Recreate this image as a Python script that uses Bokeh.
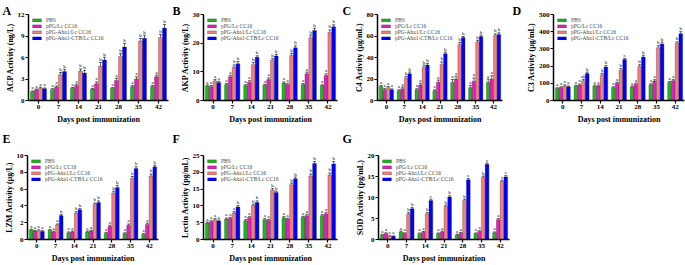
from bokeh.plotting import figure
from bokeh.models import (ColumnDataSource, FactorRange, Whisker, TeeHead, Label,
                          Legend, LegendItem, FixedTicker, Range1d)
from bokeh.layouts import column, row
from bokeh.transform import dodge
from bokeh.core.properties import value
from bokeh.embed import file_html
from bokeh.resources import INLINE

days = ["0", "7", "14", "21", "28", "35", "42"]
groups = ["PBS", "pPG/Lc CC16", "pPG-Aha1/Lc CC16", "pPG-Aha1-CTB/Lc CC16"]
colors = ["#1FB51F", "#E020C0", "#F08078", "#0000FF"]

# ---- A: ACP ----
acp_pbs = [1.25, 1.55, 1.7, 1.6, 1.7, 1.95, 1.95]
acp_ppg = [1.5, 1.9, 2.1, 2.35, 2.8, 3.0, 3.3]
acp_aha = [1.7, 3.6, 4.1, 4.8, 6.15, 8.3, 8.8]
acp_ctb = [1.65, 4.05, 3.85, 5.65, 7.45, 8.7, 10.1]
acp_err_pbs = [0.08, 0.1, 0.12, 0.1, 0.1, 0.12, 0.15]
acp_err_ppg = [0.1, 0.15, 0.2, 0.25, 0.3, 0.3, 0.25]
acp_err_aha = [0.15, 0.3, 0.3, 0.5, 0.4, 0.35, 0.4]
acp_err_ctb = [0.1, 0.3, 0.35, 0.4, 0.5, 0.4, 0.5]
acp_let = [["a"] * 7, ["a"] * 7, ["a", "b", "b", "b", "b", "b", "b"], ["a", "b", "b", "b", "b", "b", "b"]]

# ---- B: AKP ----
akp_pbs = [5.1, 5.6, 5.2, 5.3, 6.1, 5.6, 5.2]
akp_ppg = [4.9, 8.3, 6.4, 7.3, 5.6, 9.3, 8.7]
akp_aha = [6.8, 11.7, 12.5, 14.0, 15.7, 21.9, 23.7]
akp_ctb = [6.3, 12.8, 15.1, 15.5, 18.4, 24.4, 25.7]
akp_err_pbs = [0.3, 0.3, 0.3, 0.3, 0.4, 0.3, 0.3]
akp_err_ppg = [0.3, 0.5, 0.5, 0.6, 0.4, 0.6, 0.6]
akp_err_aha = [0.5, 0.7, 0.8, 0.6, 0.8, 0.9, 0.9]
akp_err_ctb = [0.4, 0.8, 0.5, 0.6, 0.7, 0.8, 0.7]
akp_let = [["a"] * 7, ["a"] * 7, ["a", "b", "b", "b", "b", "b", "b"], ["a", "b", "b", "b", "b", "b", "b"]]

# ---- C: C4 ----
c4_pbs = [13, 9, 10, 9, 17, 12, 17]
c4_ppg = [10, 11, 14.5, 17, 20, 18, 20]
c4_aha = [12, 21, 31, 33.5, 52, 54.5, 60.5]
c4_ctb = [10, 25, 33, 43.5, 58.5, 59.5, 61.5]
c4_err_pbs = [1.0, 1.0, 1.0, 1.0, 2.5, 2.0, 3.0]
c4_err_ppg = [1.0, 1.5, 1.5, 2.0, 2.5, 3.0, 3.0]
c4_err_aha = [1.0, 1.5, 2.0, 2.5, 2.0, 1.5, 1.5]
c4_err_ctb = [0.8, 1.5, 1.5, 1.5, 1.0, 1.2, 1.5]
c4_let = [["a"] * 7, ["a"] * 7, ["a", "b", "b", "b", "b", "b", "b"], ["a", "b", "b", "b", "b", "b", "b"]]

# ---- D: C3 ----
c3_pbs = [70, 85, 85, 75, 80, 92, 105]
c3_ppg = [75, 90, 85, 100, 95, 113, 115]
c3_aha = [85, 115, 150, 175, 198, 307, 333]
c3_ctb = [80, 157, 195, 238, 253, 328, 388]
c3_err_pbs = [4, 4, 5, 5, 4, 5, 5]
c3_err_ppg = [5, 6, 5, 6, 6, 8, 6]
c3_err_aha = [6, 8, 8, 10, 10, 12, 8]
c3_err_ctb = [5, 8, 8, 6, 10, 12, 12]
c3_let = [["a"] * 7, ["a"] * 7, ["a", "ab", "b", "b", "b", "b", "b"], ["a", "b", "b", "c", "b", "b", "b"]]

# ---- E: LZM ----
lzm_pbs = [1.15, 1.1, 0.8, 0.9, 0.75, 0.7, 0.6]
lzm_ppg = [1.0, 0.9, 0.9, 1.0, 1.55, 1.7, 1.8]
lzm_aha = [1.05, 1.75, 3.15, 4.2, 5.55, 7.3, 7.55]
lzm_ctb = [0.95, 2.85, 3.55, 4.4, 6.2, 8.45, 8.65]
lzm_err_pbs = [0.08, 0.1, 0.1, 0.1, 0.1, 0.1, 0.1]
lzm_err_ppg = [0.1, 0.1, 0.1, 0.1, 0.15, 0.15, 0.15]
lzm_err_aha = [0.1, 0.1, 0.15, 0.15, 0.2, 0.2, 0.25]
lzm_err_ctb = [0.1, 0.15, 0.15, 0.2, 0.25, 0.2, 0.2]
lzm_let = [["a"] * 7, ["a"] * 7, ["a", "a", "b", "b", "b", "b", "b"], ["a", "b", "b", "b", "b", "b", "b"]]

# ---- F: Lectin ----
lec_pbs = [4.9, 6.1, 5.6, 5.9, 6.5, 6.6, 7.1]
lec_ppg = [5.3, 6.3, 6.5, 5.7, 6.0, 7.1, 7.6]
lec_aha = [5.9, 7.9, 10.1, 14.7, 16.3, 18.9, 19.2]
lec_ctb = [5.5, 9.7, 11.0, 14.0, 18.1, 22.6, 22.5]
lec_err_pbs = [0.3, 0.3, 0.3, 0.3, 0.3, 0.3, 0.3]
lec_err_ppg = [0.3, 0.3, 0.3, 0.3, 0.3, 0.4, 0.4]
lec_err_aha = [0.3, 0.4, 0.4, 0.5, 0.5, 0.6, 0.6]
lec_err_ctb = [0.3, 0.4, 0.5, 0.4, 0.5, 0.6, 0.7]
lec_let = [["a"] * 7, ["a"] * 7, ["a", "a", "b", "b", "b", "b", "b"], ["a", "b", "b", "b", "b", "b", "b"]]

# ---- G: SOD ----
sod_pbs = [1.1, 1.8, 1.4, 1.4, 1.1, 1.4, 1.6]
sod_ppg = [1.4, 1.4, 1.7, 1.8, 1.5, 1.9, 4.7]
sod_aha = [0.8, 6.1, 6.1, 7.9, 9.3, 14.8, 13.8]
sod_ctb = [0.75, 7.3, 9.3, 10.1, 14.2, 17.9, 14.9]
sod_err_pbs = [0.15, 0.2, 0.15, 0.15, 0.15, 0.15, 0.2]
sod_err_ppg = [0.2, 0.2, 0.2, 0.2, 0.2, 0.2, 0.3]
sod_err_aha = [0.1, 0.3, 0.3, 0.3, 0.3, 0.3, 0.3]
sod_err_ctb = [0.1, 0.3, 0.3, 0.3, 0.3, 0.3, 0.3]
sod_let = [["a"] * 7, ["a"] * 7, ["a", "b", "b", "b", "b", "b", "c"],
           ["a", "b", "c", "b", "c", "c", "c"]]

FONT = "Liberation Serif"
offsets = [-0.3, -0.1, 0.1, 0.3]


def panel(letter, ylabel, series, errs, letters, y_end, y_ticks,
          width, height, left, right, top, bottom):
    p = figure(x_range=FactorRange(*days, range_padding=0.0),
               y_range=Range1d(0, y_end),
               width=width, height=height, output_backend="svg",
               toolbar_location=None, min_border_left=left,
               min_border_right=right, min_border_top=top,
               min_border_bottom=bottom)
    p.outline_line_color = None
    p.xgrid.grid_line_color = None
    p.ygrid.grid_line_color = None
    p.background_fill_color = None
    p.border_fill_color = None
    items = []
    for i, (vals, err, lets) in enumerate(zip(series, errs, letters)):
        top_vals = [v + e for v, e in zip(vals, err)]
        src = ColumnDataSource(dict(day=days, v=vals, up=top_vals,
                                    lo=vals, lab=lets))
        r = p.vbar(x=dodge("day", offsets[i], range=p.x_range), top="v",
                   width=0.2, source=src, fill_color=colors[i],
                   line_color="#222222", line_width=0.3)
        w = Whisker(base=dodge("day", offsets[i], range=p.x_range),
                    upper="up", lower="lo", source=src,
                    line_color="black", line_width=0.6,
                    upper_head=TeeHead(size=3, line_width=0.6, line_color="black"),
                    lower_head=None)
        p.add_layout(w)
        p.text(x=dodge("day", offsets[i], range=p.x_range), y="up", text="lab",
               source=src, text_font=value(FONT), text_font_size="5px",
               text_align="center", text_baseline="bottom", y_offset=-0.5,
               text_color="black")
        items.append(LegendItem(label=groups[i], renderers=[r]))
    leg = Legend(items=items, location="top_left", background_fill_alpha=0,
                 border_line_color=None, label_text_font=FONT,
                 label_text_font_size="5.5px", glyph_width=11, glyph_height=4,
                 label_height=5, spacing=0, padding=0, margin=3,
                 label_standoff=4, label_text_line_height=0.9)
    p.add_layout(leg)

    for ax in (p.xaxis[0], p.yaxis[0]):
        ax.axis_line_width = 1.5
        ax.axis_line_color = "black"
        ax.major_tick_line_width = 1.2
        ax.major_tick_in = 0
        ax.major_tick_out = 3
        ax.minor_tick_line_color = None
        ax.major_label_text_font = FONT
        ax.major_label_text_font_style = "bold"
        ax.major_label_text_font_size = "7px"
        ax.major_label_text_color = "black"
        ax.axis_label_text_font = FONT
        ax.axis_label_text_font_style = "bold"
        ax.axis_label_text_font_size = "8px"
        ax.axis_label_text_color = "black"
        ax.major_label_standoff = 1
    p.xaxis.axis_label = "Days post immunization"
    p.xaxis.axis_label_standoff = 3
    p.yaxis.axis_label = ylabel
    p.yaxis.axis_label_standoff = 0
    p.yaxis.ticker = FixedTicker(ticks=y_ticks)
    p.add_layout(Label(x=-(left - 2), y=top - 1, x_units="screen",
                       y_units="screen", text=letter, text_font=FONT,
                       text_font_style="bold", text_font_size="12px",
                       text_line_height=0.6,
                       text_color="black", text_baseline="top"), "above")
    return p


pA = panel("A", "ACP Activity (ng/L)", [acp_pbs, acp_ppg, acp_aha, acp_ctb],
           [acp_err_pbs, acp_err_ppg, acp_err_aha, acp_err_ctb], acp_let,
           12, [0, 3, 6, 9, 12], 170, 130, 28, 2, 12, 30)
pB = panel("B", "AKP Activity (ng/L)", [akp_pbs, akp_ppg, akp_aha, akp_ctb],
           [akp_err_pbs, akp_err_ppg, akp_err_aha, akp_err_ctb], akp_let,
           30, [0, 10, 20, 30], 170, 130, 33, 3, 12, 30)
pC = panel("C", "C4 Activity (μg/mL)", [c4_pbs, c4_ppg, c4_aha, c4_ctb],
           [c4_err_pbs, c4_err_ppg, c4_err_aha, c4_err_ctb], c4_let,
           80, [0, 20, 40, 60, 80], 170, 130, 37, 8, 12, 30)
pD = panel("D", "C3 Activity (μg/mL)", [c3_pbs, c3_ppg, c3_aha, c3_ctb],
           [c3_err_pbs, c3_err_ppg, c3_err_aha, c3_err_ctb], c3_let,
           500, [0, 100, 200, 300, 400, 500], 175, 130, 43, 1, 12, 30)
pE = panel("E", "LZM Activity (μg/L)", [lzm_pbs, lzm_ppg, lzm_aha, lzm_ctb],
           [lzm_err_pbs, lzm_err_ppg, lzm_err_aha, lzm_err_ctb], lzm_let,
           10, [0, 2, 4, 6, 8, 10], 170, 135, 27, 12, 25, 21)
pF = panel("F", "Lectin Activity (pg/mL)", [lec_pbs, lec_ppg, lec_aha, lec_ctb],
           [lec_err_pbs, lec_err_ppg, lec_err_aha, lec_err_ctb], lec_let,
           25, [0, 5, 10, 15, 20, 25], 170, 135, 33, 3, 25, 21)
pG = panel("G", "SOD Activity (pg/mL)", [sod_pbs, sod_ppg, sod_aha, sod_ctb],
           [sod_err_pbs, sod_err_ppg, sod_err_aha, sod_err_ctb], sod_let,
           20, [0, 5, 10, 15, 20], 170, 135, 38, 1, 25, 21)

layout = column(row(pA, pB, pC, pD, spacing=0), row(pE, pF, pG, spacing=0), spacing=0)
open("out.html", "w").write(file_html(layout, INLINE))
